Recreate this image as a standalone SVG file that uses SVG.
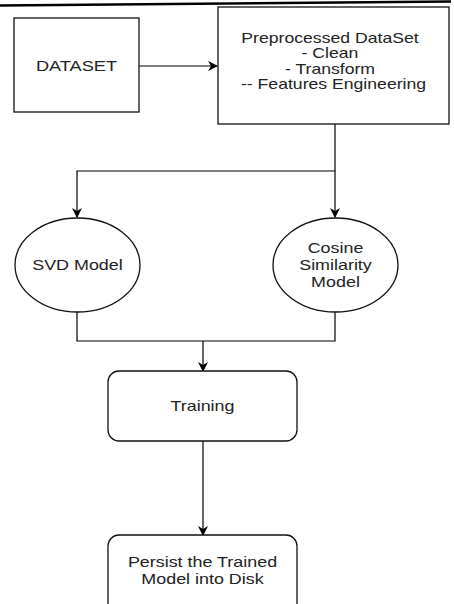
<svg xmlns="http://www.w3.org/2000/svg" width="454" height="604" viewBox="0 0 454 604">
<style>
.n{fill:#fff;stroke:#111;stroke-width:1.3}
.c{fill:none;stroke:#000;stroke-width:1.2}
text{font-family:"Liberation Sans",Arial,sans-serif;font-size:14px;fill:#222;text-anchor:middle;dominant-baseline:central}
</style>
<defs>
<marker id="a" viewBox="0 0 10 10" refX="9" refY="5" markerWidth="10" markerHeight="10" markerUnits="userSpaceOnUse" orient="auto">
<path d="M0,0 L10,5 L0,10 L3,5 Z" fill="#000"/>
</marker>
</defs>
<rect width="454" height="604" fill="#fff"/>
<line x1="0" y1="5.5" x2="451" y2="1.5" stroke="#000" stroke-width="2.5"/>
<g id="connectors">
<line class="c" x1="139" y1="66" x2="217" y2="66" marker-end="url(#a)"/>
<polyline class="c" points="335,124 335,171 77,171 77,217" marker-end="url(#a)"/>
<line class="c" x1="335" y1="171" x2="335" y2="217" marker-end="url(#a)"/>
<polyline class="c" points="77,312 77,341 335,341 335,312"/>
<line class="c" x1="203" y1="341" x2="203" y2="371" marker-end="url(#a)"/>
<line class="c" x1="203" y1="441" x2="203" y2="535" marker-end="url(#a)"/>
</g>
<g id="dataset">
<rect class="n" x="14" y="18" width="125" height="94"/>
<text transform="translate(76.5,66) scale(1.3,1)">DATASET</text>
</g>
<g id="preprocessed">
<rect class="n" x="218" y="7" width="231" height="117"/>
<text transform="translate(330,38) scale(1.26,1)">Preprocessed DataSet</text>
<text transform="translate(330,53.5) scale(1.26,1)">- Clean</text>
<text transform="translate(330,69) scale(1.26,1)">- Transform</text>
<text transform="translate(333.5,84.5) scale(1.26,1)">-- Features Engineering</text>
</g>
<g id="svd">
<ellipse class="n" cx="77.5" cy="265" rx="62.5" ry="47"/>
<text transform="translate(77.5,264.5) scale(1.28,1)">SVD Model</text>
</g>
<g id="cosine">
<ellipse class="n" cx="335.5" cy="265" rx="62.5" ry="47"/>
<text transform="translate(335.5,248) scale(1.28,1)">Cosine</text>
<text transform="translate(335.5,265) scale(1.28,1)">Similarity</text>
<text transform="translate(335.5,282) scale(1.28,1)">Model</text>
</g>
<g id="training">
<rect class="n" x="108" y="371" width="189" height="70" rx="11"/>
<text transform="translate(202.5,406) scale(1.28,1)">Training</text>
</g>
<g id="persist">
<rect class="n" x="108" y="535" width="189" height="80" rx="11"/>
<text transform="translate(202.5,562) scale(1.28,1)">Persist the Trained</text>
<text transform="translate(202.5,579) scale(1.28,1)">Model into Disk</text>
</g>
</svg>
